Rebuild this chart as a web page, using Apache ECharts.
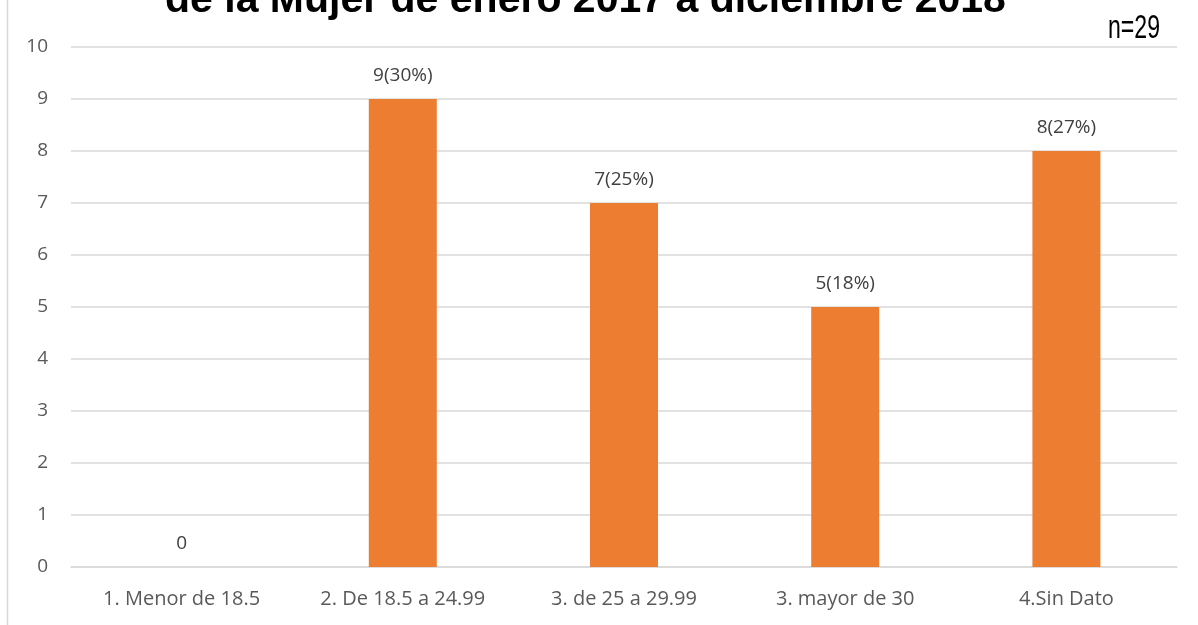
<!DOCTYPE html>
<html><head><meta charset="utf-8">
<script src="https://cdn.jsdelivr.net/npm/echarts@6/dist/echarts.min.js"></script>
<style>html,body{margin:0;padding:0;background:#fff}#c{width:1198px;height:625px}</style>
</head><body><div id="c"></div>
<script>
const categories = ['1. Menor de 18.5', '2. De 18.5 a 24.99', '3. de 25 a 29.99', '3. mayor de 30', '4.Sin Dato'];
const values = [0, 9, 7, 5, 8];
const labels = ['0', '9(30%)', '7(25%)', '5(18%)', '8(27%)'];
const titleText = 'de la Mujer de enero 2017 a diciembre 2018';
const nText = 'n=29';

const chart = echarts.init(document.getElementById('c'));
chart.setOption({
  animation: false,
  grid: {left: 71, right: 21, top: 47, bottom: 58},
  graphic: [
    {type: 'line', shape: {x1: 7.5, y1: 0, x2: 7.5, y2: 625}, style: {stroke: '#d9d9d9', lineWidth: 1.5}},
    {type: 'text', x: 165, y: -20, style: {text: titleText, font: 'bold 41px "Liberation Sans"', fill: '#000'}},
    {type: 'text', x: 1108, y: 12, scaleX: 0.7, style: {text: nText, font: '33px "Liberation Sans"', fill: '#000'}}
  ],
  xAxis: {
    type: 'category', data: categories,
    axisLine: {lineStyle: {color: '#d9d9d9', width: 1.5}},
    axisTick: {show: false},
    axisLabel: {color: '#595959', fontSize: 20, fontFamily: 'Open Sans', margin: 22}
  },
  yAxis: {
    type: 'value', min: 0, max: 10, interval: 1,
    axisLine: {show: false}, axisTick: {show: false},
    splitLine: {lineStyle: {color: '#d9d9d9', width: 1.5}},
    axisLabel: {color: '#595959', fontSize: 19, fontFamily: 'Open Sans', margin: 23}
  },
  series: [{
    type: 'bar', data: values, barWidth: 68,
    itemStyle: {color: '#ed7d31'},
    label: {show: true, position: 'top', distance: 14, color: '#404040', fontSize: 19, fontFamily: 'Open Sans',
      formatter: p => labels[p.dataIndex]}
  }]
});
</script></body></html>
